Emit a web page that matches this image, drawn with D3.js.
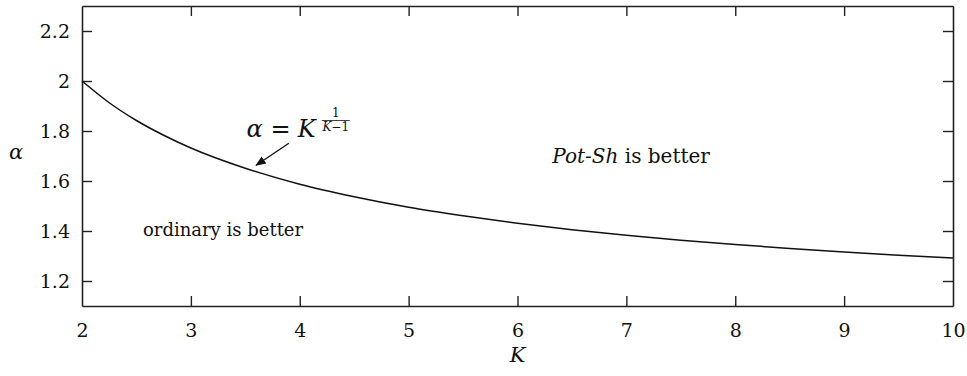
<!DOCTYPE html>
<html>
<head>
<meta charset="utf-8">
<script src="https://cdn.jsdelivr.net/npm/d3@7/dist/d3.min.js"></script>
<style>
  body { margin: 0; background: #fff; }
  svg { display: block; }
</style>
</head>
<body>
<svg id="chart" width="967" height="376"></svg>
<script>
// Boundary curve alpha = K^(1/(K-1)) sampled along K
const kValues     = [2, 2.25, 2.5, 2.75, 3, 3.5, 4, 4.5, 5, 5.5, 6, 6.5, 7, 7.5, 8, 8.5, 9, 9.5, 10];
const alphaValues = [2.000, 1.913, 1.842, 1.783, 1.732, 1.651, 1.587, 1.537, 1.495, 1.461, 1.431, 1.405, 1.383, 1.363, 1.346, 1.330, 1.316, 1.303, 1.292];

const xTicks = [2, 3, 4, 5, 6, 7, 8, 9, 10];
const yTicks = [1.2, 1.4, 1.6, 1.8, 2, 2.2];
const xDomain = [2, 10];
const yDomain = [1.1, 2.3];

const SERIF = "DejaVu Serif, Liberation Serif, Times New Roman, serif";

const margin = { left: 82, right: 14, top: 6, bottom: 70 };
const W = 967, H = 376;
const svg = d3.select("#chart").attr("font-family", SERIF);

const x = d3.scaleLinear().domain(xDomain).range([margin.left, W - margin.right]);
const y = d3.scaleLinear().domain(yDomain).range([H - margin.bottom, margin.top]);

const fmt = d => String(d);
const tickLen = 10;

// frame axes with inward ticks on all four sides
const axisG = svg.append("g").attr("class", "axes");
const axBottom = axisG.append("g").attr("transform", `translate(0,${y.range()[0]})`)
  .call(d3.axisBottom(x).tickValues(xTicks).tickFormat(fmt).tickSizeInner(-tickLen).tickSizeOuter(0).tickPadding(18));
const axTop = axisG.append("g").attr("transform", `translate(0,${y.range()[1]})`)
  .call(d3.axisTop(x).tickValues(xTicks).tickFormat("").tickSizeInner(-tickLen).tickSizeOuter(0));
const axLeft = axisG.append("g").attr("transform", `translate(${x.range()[0]},0)`)
  .call(d3.axisLeft(y).tickValues(yTicks).tickFormat(fmt).tickSizeInner(-tickLen).tickSizeOuter(0).tickPadding(12));
const axRight = axisG.append("g").attr("transform", `translate(${x.range()[1]},0)`)
  .call(d3.axisRight(y).tickValues(yTicks).tickFormat("").tickSizeInner(-tickLen).tickSizeOuter(0));

axisG.selectAll("g").attr("font-family", SERIF).attr("font-size", 19);
axisG.selectAll(".domain").attr("stroke", "#222").attr("stroke-width", 1.6);
axisG.selectAll(".tick line").attr("stroke", "#222").attr("stroke-width", 1.4);
axisG.selectAll(".tick text").attr("fill", "#111");

// the end ticks coincide with the side borders
axBottom.selectAll(".tick").filter(d => d === 2 || d === 10).select("line").attr("opacity", 0);
axTop.selectAll(".tick").filter(d => d === 2 || d === 10).select("line").attr("opacity", 0);

// curve
const line = d3.line().x((d, i) => x(kValues[i])).y(d => y(d)).curve(d3.curveMonotoneX);
svg.append("path")
  .datum(alphaValues)
  .attr("d", line)
  .attr("fill", "none")
  .attr("stroke", "#111")
  .attr("stroke-width", 1.5);

// axis titles
svg.append("text").attr("x", x(6)).attr("y", 362).attr("text-anchor", "middle")
  .attr("font-size", 21).attr("font-style", "italic").attr("fill", "#111").text("K");
svg.append("text").attr("x", 16).attr("y", 159).attr("text-anchor", "middle")
  .attr("font-size", 21).attr("font-style", "italic").attr("fill", "#111").text("α");

// region labels
const pot = svg.append("text").attr("x", x(6.32)).attr("y", y(1.671)).attr("font-size", 20).attr("fill", "#111");
pot.append("tspan").attr("font-style", "italic").text("Pot-Sh");
pot.append("tspan").text(" is better");
svg.append("text").attr("x", x(2.56)).attr("y", y(1.38)).attr("font-size", 18).attr("fill", "#111").text("ordinary is better");

// curve formula label: alpha = K^(1/(K-1)), with an arrow to the curve
const baseY = 137;
const lblX = x(3.51);
const lbl = svg.append("text").attr("x", lblX).attr("y", baseY).attr("font-size", 24).attr("fill", "#111");
lbl.append("tspan").attr("font-style", "italic").text("α");
lbl.append("tspan").attr("dx", 8).text("=");
lbl.append("tspan").attr("dx", 7).attr("font-style", "italic").text("K");
const fx = lblX + lbl.node().getBBox().width + 4;
const fracW = 28;
svg.append("text").attr("x", fx + fracW / 2).attr("y", baseY - 20).attr("text-anchor", "middle")
  .attr("font-size", 12).attr("fill", "#111").text("1");
svg.append("line").attr("x1", fx).attr("x2", fx + fracW).attr("y1", baseY - 16.5).attr("y2", baseY - 16.5)
  .attr("stroke", "#111").attr("stroke-width", 0.8);
const den = svg.append("text").attr("x", fx + fracW / 2).attr("y", baseY - 6).attr("text-anchor", "middle")
  .attr("font-size", 12).attr("fill", "#111");
den.append("tspan").attr("font-style", "italic").text("K");
den.append("tspan").text("−1");

svg.append("defs").append("marker")
  .attr("id", "arrowhead").attr("viewBox", "0 0 10 10").attr("refX", 9).attr("refY", 5)
  .attr("markerWidth", 8).attr("markerHeight", 8).attr("orient", "auto-start-reverse")
  .append("path").attr("d", "M0,1 L10,5 L0,9 z").attr("fill", "#111");

svg.append("line")
  .attr("x1", x(3.9)).attr("y1", y(1.751))
  .attr("x2", x(3.6)).attr("y2", y(1.663))
  .attr("stroke", "#111").attr("stroke-width", 1.3)
  .attr("marker-end", "url(#arrowhead)");
</script>
</body>
</html>
